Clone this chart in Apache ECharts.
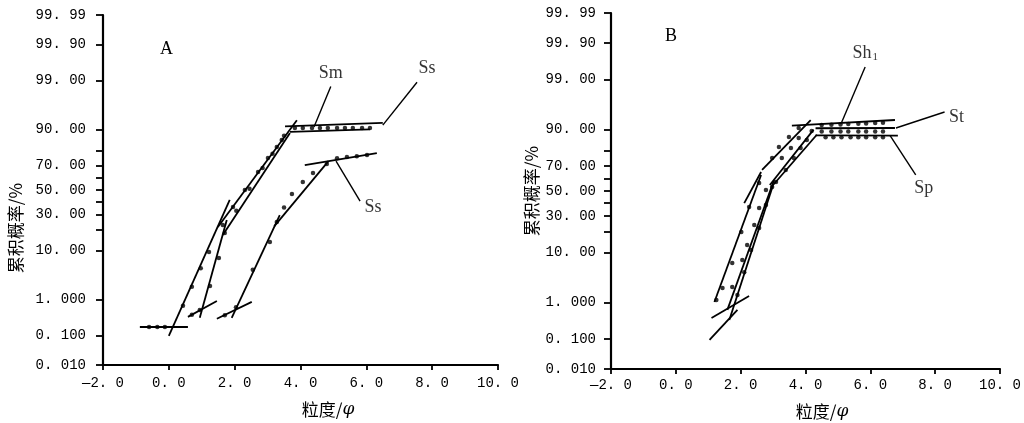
<!DOCTYPE html>
<html><head><meta charset="utf-8">
<script src="https://cdn.jsdelivr.net/npm/echarts@6/dist/echarts.min.js"></script>
<style>html,body{margin:0;padding:0;background:#fff}#c{width:1024px;height:423px}</style>
</head><body><div id="c"></div>
<script>
// ---------- data (phi, cumulative percent) ----------
const yTickPct = [0.01, 0.1, 1, 10, 30, 50, 70, 90, 99, 99.9, 99.99];
const yTickText = ['0. 010','0. 100','1. 000','10. 00','30. 00','50. 00','70. 00','90. 00','99. 00','99. 90','99. 99'];
const yMinorPct = [20, 40, 60, 80];
const xTicks = [-2, 0, 2, 4, 6, 8, 10];
const xTickText = ['—2. 0','0. 0','2. 0','4. 0','6. 0','8. 0','10. 0'];

// Panel A
const smDots = [[-0.6,0.18],[-0.35,0.18],[-0.12,0.18],[0.43,0.7],[0.70,2.0],[0.97,4.8],[1.22,9.4],
  [1.64,22.8],[1.95,35.9],[2.31,50],[2.71,64.9],[3.01,75.2],[3.28,81.9],[3.43,85.6],
  [3.83,90.6],[4.07,90.6],[4.35,90.6],[4.59,90.6],[4.83,90.6],[5.11,90.6],[5.35,90.6],[5.59,90.6],[5.87,90.6],[6.11,90.6]];
const ssUpperDots = [[0.70,0.40],[0.94,0.54],[1.25,2.07],[1.52,7.4],[1.70,18.0],[2.05,33],[2.45,51],[2.85,68],[3.15,78],[3.50,87.5]];
const ssLowerDots = [[1.70,0.39],[2.04,0.64],[2.55,4.5],[3.07,13.5],[3.28,24.8],[3.50,35.5],[3.74,46.6],[4.07,56.7],[4.38,64.1],[4.80,70.9],
  [5.11,75.0],[5.41,75.8],[5.71,76.4],[6.02,77.1]];
const smFit = [[[-0.88,0.18],[0.58,0.18]], [[0.0,0.096],[1.85,41.6]], [[1.49,21.6],[3.89,93.1]], [[3.68,89.2],[6.11,90.1]]];
const ssUpperFit = [[[0.58,0.35],[1.46,0.92]], [[0.94,0.33],[1.76,26.2]], [[1.64,16.9],[3.68,88.7]], [[3.53,91.2],[6.5,92.3]]];
const ssLowerFit = [[[1.46,0.31],[2.52,0.87]], [[1.91,0.33],[3.37,29.7]], [[3.2,22],[4.85,73]], [[4.13,70.2],[6.32,78.4]]];

// Panel B
const sh1Dots = [[1.25,1.14],[1.44,2.13],[1.74,6.6],[2.02,19.6],[2.26,36.9],[2.57,56.6],[2.97,75.5],[3.18,82.1],[3.49,87.0],[3.79,90.6],
  [4.50,91.6],[4.80,91.7],[5.08,91.8],[5.32,91.9],[5.63,92.0],[5.87,92.1],[6.15,92.2],[6.39,92.3]];
const stDots = [[1.74,2.24],[2.05,7.5],[2.20,13.0],[2.42,23.9],[2.57,36.1],[2.78,50.8],[3.27,75.5],[3.55,81.6],[3.79,86.6],[4.19,89.5],
  [4.50,89.3],[4.80,89.3],[5.08,89.3],[5.32,89.3],[5.63,89.3],[5.87,89.3],[6.15,89.3],[6.39,89.3]];
const spDots = [[1.90,1.49],[2.11,4.5],[2.32,10.9],[2.57,22.0],[2.78,38.5],[2.97,53.3],[3.09,57.5],[3.39,67.0],[3.64,75.5],[3.85,81.6],[4.04,85.7],
  [4.62,86.9],[4.86,86.9],[5.11,86.9],[5.39,86.9],[5.63,86.9],[5.87,86.9],[6.15,86.9],[6.39,86.9]];
const sh1Fit = [[[1.19,1.02],[2.63,63.1]], [[2.11,40],[2.63,65.4]], [[2.66,67],[4.16,93.1]], [[3.58,91.4],[6.76,93.1]]];
const stFit = [[[1.10,0.40],[2.26,1.41]], [[1.59,0.65],[3.03,59.1]], [[2.9,55],[4.25,90]], [[4.31,90.5],[6.76,90.6]]];
const spFit = [[[1.04,0.093],[1.90,0.65]], [[1.65,0.35],[3.0,55]], [[3.0,55],[4.35,88]], [[4.31,87.7],[6.85,87.6]]];

// annotations (data space): label, leader start (label end), leader end (curve)
const aNotes = [
  {text:'Sm', from:[4.92,98.6], to:[4.41,91.0], pos:'top', off:[0,0]},
  {text:'Ss', from:[7.54,98.9], to:[6.50,91.6], pos:'top', off:[10,0]},
  {text:'Ss', from:[5.81,40.7], to:[5.08,73.0], pos:'right', off:[0,6]}
];
const bNotes = [
  {text:'{a|Sh}{b|1}', from:[5.84,99.52], to:[5.11,92.3], pos:'top', off:[0,0]},
  {text:'St', from:[8.29,95.06], to:[6.79,90.6], pos:'right', off:[0,5]},
  {text:'Sp', from:[7.40,63.1], to:[6.61,87.6], pos:'bottom', off:[8,0]}
];

// ---------- probability (probit) scale ----------
function probit(p){
  const a=[-3.969683028665376e+01,2.209460984245205e+02,-2.759285104469687e+02,1.383577518672690e+02,-3.066479806614716e+01,2.506628277459239e+00];
  const b=[-5.447609879822406e+01,1.615858368580409e+02,-1.556989798598866e+02,6.680131188771972e+01,-1.328068155288572e+01];
  const c=[-7.784894002430293e-03,-3.223964580411365e-01,-2.400758277161838e+00,-2.549732539343734e+00,4.374664141464968e+00,2.938163982698783e+00];
  const d=[7.784695709041462e-03,3.224671290700398e-01,2.445134137142996e+00,3.754408661907416e+00];
  const pl=0.02425, ph=1-pl; let q,r;
  if(p<pl){q=Math.sqrt(-2*Math.log(p));return (((((c[0]*q+c[1])*q+c[2])*q+c[3])*q+c[4])*q+c[5])/((((d[0]*q+d[1])*q+d[2])*q+d[3])*q+1);}
  if(p<=ph){q=p-0.5;r=q*q;return (((((a[0]*r+a[1])*r+a[2])*r+a[3])*r+a[4])*r+a[5])*q/(((((b[0]*r+b[1])*r+b[2])*r+b[3])*r+b[4])*r+1);}
  q=Math.sqrt(-2*Math.log(1-p));return -(((((c[0]*q+c[1])*q+c[2])*q+c[3])*q+c[4])*q+c[5])/((((d[0]*q+d[1])*q+d[2])*q+d[3])*q+1);
}
const Z = pct => probit(pct/100);
const pt = ([x,p]) => [x, Z(p)];

const BLACK = '#000';
const labelFont = 'Liberation Mono';
const zMin = Z(0.01), zMax = Z(99.99);
const majorZ = yTickPct.map(Z);
const tickZ = majorZ.concat(yMinorPct.map(Z));

function yAxisDef(idx, margin){
  return {
    type:'value', gridIndex:idx, min:zMin, max:zMax, splitLine:{show:false},
    axisLine:{show:true, onZero:false, lineStyle:{color:BLACK, width:2.2}},
    axisTick:{show:true, customValues:tickZ, length:7, lineStyle:{color:BLACK, width:1.8}},
    axisLabel:{show:true, customValues:majorZ, margin:margin, color:BLACK, fontFamily:labelFont, fontSize:14,
      formatter:v=>{let best=0,bd=1e9;majorZ.forEach((z,i)=>{const dd=Math.abs(z-v);if(dd<bd){bd=dd;best=i;}});return yTickText[best];}}
  };
}
function xAxisDef(idx, margin){
  return {
    type:'value', gridIndex:idx, min:-2, max:10, interval:2, splitLine:{show:false},
    axisLine:{show:true, onZero:false, lineStyle:{color:BLACK, width:2.2}},
    axisTick:{show:true, length:5, lineStyle:{color:BLACK, width:1.8}},
    axisLabel:{show:true, margin:margin, color:BLACK, fontFamily:labelFont, fontSize:14, showMinLabel:true, showMaxLabel:true,
      formatter:v=>{const i=xTicks.indexOf(Math.round(v));return i>=0?xTickText[i]:'';}}
  };
}

const series = [];
function addDots(arr, g){
  series.push({type:'scatter', xAxisIndex:g, yAxisIndex:g, data:arr.map(pt), symbol:'circle', symbolSize:4.5,
    itemStyle:{color:BLACK}, silent:true, z:3});
}
function addFit(segs, g){
  segs.forEach(s=>series.push({type:'line', xAxisIndex:g, yAxisIndex:g, data:s.map(pt), symbol:'none',
    lineStyle:{color:BLACK, width:1.8}, silent:true, z:2}));
}
function addNotes(notes, g){
  notes.forEach(n=>{
    series.push({type:'line', xAxisIndex:g, yAxisIndex:g, symbol:'none', silent:true, z:2,
      lineStyle:{color:BLACK, width:1.4}, data:[pt(n.from), pt(n.to)]});
    series.push({type:'scatter', xAxisIndex:g, yAxisIndex:g, silent:true, z:4, symbol:'circle', symbolSize:1,
      itemStyle:{color:'rgba(0,0,0,0)'},
      label:{show:true, formatter:n.text, position:n.pos, offset:n.off, distance:4,
        color:BLACK, fontFamily:'Liberation Serif', fontSize:18,
        rich:{a:{fontFamily:'Liberation Serif', fontSize:18, color:BLACK},
              b:{fontFamily:'Liberation Serif', fontSize:11, color:BLACK, padding:[8,0,0,1]}}},
      data:[pt(n.from)]});
  });
}
addFit(smFit,0); addFit(ssUpperFit,0); addFit(ssLowerFit,0);
addDots(smDots,0); addDots(ssUpperDots,0); addDots(ssLowerDots,0);
addNotes(aNotes,0);
addFit(sh1Fit,1); addFit(stFit,1); addFit(spFit,1);
addDots(sh1Dots,1); addDots(stDots,1); addDots(spDots,1);
addNotes(bNotes,1);

const cjk = '17px "Noto Sans CJK SC"';
const chart = echarts.init(document.getElementById('c'), null, {renderer:'canvas'});
chart.setOption({
  animation:false, backgroundColor:'#fff',
  title:[
    {text:'A', left:155, top:35, textStyle:{fontFamily:'Liberation Serif', fontSize:18, fontWeight:'normal', color:BLACK}},
    {text:'B', left:660, top:22, textStyle:{fontFamily:'Liberation Serif', fontSize:18, fontWeight:'normal', color:BLACK}}
  ],
  grid:[
    {left:103, top:15, width:395, height:350},
    {left:611, top:13, width:392, height:356}
  ],
  xAxis:[xAxisDef(0,11), xAxisDef(1,9)],
  yAxis:[yAxisDef(0,17), yAxisDef(1,15)],
  series:series,
  graphic:[
    {type:'text', x:16, y:228, rotation:Math.PI/2, style:{text:'累积概率/%', fill:BLACK, font:cjk, textAlign:'center', textVerticalAlign:'middle'}},
    {type:'text', x:532, y:191, rotation:Math.PI/2, style:{text:'累积概率/%', fill:BLACK, font:cjk, textAlign:'center', textVerticalAlign:'middle'}},
    {type:'text', x:328, y:410, style:{text:'{a|粒度/}{b|φ}', fill:BLACK, textAlign:'center', textVerticalAlign:'middle',
      rich:{a:{font:cjk, fill:BLACK}, b:{font:'italic 17px "DejaVu Serif"', fill:BLACK}}}},
    {type:'text', x:822, y:412, style:{text:'{a|粒度/}{b|φ}', fill:BLACK, textAlign:'center', textVerticalAlign:'middle',
      rich:{a:{font:cjk, fill:BLACK}, b:{font:'italic 17px "DejaVu Serif"', fill:BLACK}}}}
  ]
});
</script></body></html>
